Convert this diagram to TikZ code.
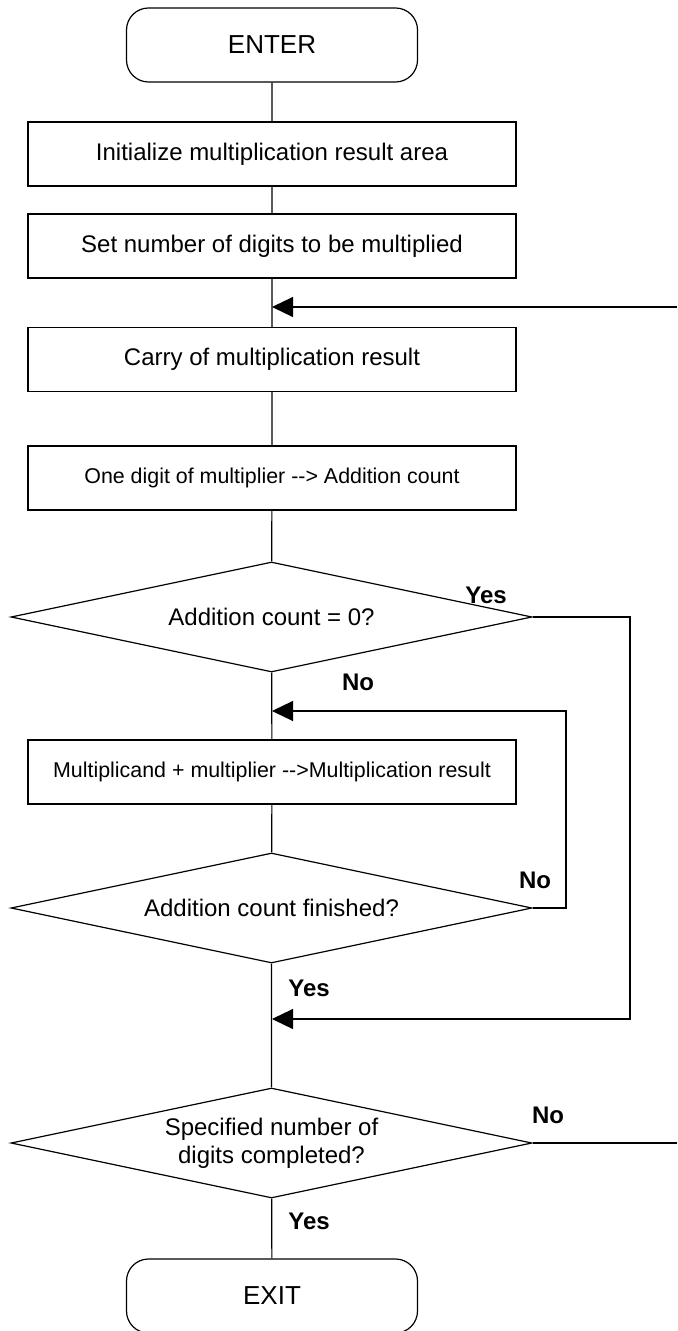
\documentclass[tikz,border=0pt]{standalone}
\usepackage{fontspec}
\setmainfont{Liberation Sans}
\usetikzlibrary{arrows.meta,positioning,shapes.geometric}

\begin{document}
\begin{tikzpicture}[
  x=0.5pt,y=-0.5pt,
  line width=0.6pt,
  term/.style={draw, rounded corners=11pt, minimum width=145.5pt, minimum height=37pt, font=\fontsize{13}{15}\selectfont},
  box/.style={draw, minimum width=244pt, minimum height=32pt, font=\fontsize{12}{14}\selectfont},
  smallbox/.style={box, font=\fontsize{10.7}{13}\selectfont},
  decide/.style={draw, diamond, shape aspect=4.7, inner sep=0pt, minimum width=260.5pt, minimum height=55pt, align=center, font=\fontsize{12}{14}\selectfont},
  lbl/.style={font=\bfseries\fontsize{12}{14}\selectfont},
  arrow/.style={-{Triangle[length=10.5pt,width=10pt]}}
]
\useasboundingbox (0,0) rectangle (677,1331);
\node[term] (enter) at (272,45) {ENTER};
\node[box] (init) at (272,154) {Initialize multiplication result area};
\node[box] (setdigits) at (272,246) {Set number of digits to be multiplied};
\node[box] (carry) at (272,359.5) {Carry of multiplication result};
\node[smallbox] (onedigit) at (272,478) {One digit of multiplier -{}-> Addition count};
\node[decide] (iszero) at (271.5,617) {Addition count = 0?};
\node[smallbox] (addmul) at (272,772) {Multiplicand + multiplier -{}->Multiplication result};
\node[decide] (addend) at (271.5,908) {Addition count finished?};
\node[decide] (digitsdone) at (271.5,1143) {Specified number of\\digits completed?};
\node[term] (exit) at (272,1296) {EXIT};
\coordinate (m1) at (272,307);
\coordinate (m2) at (272,711);
\coordinate (m3) at (272,1019);
\coordinate (offtop) at (677,307);
\coordinate (offbottom) at (677,1143);
\coordinate (nocol) at (566,711);
\coordinate (yescol) at (630,1019);
\draw (enter) -- (init) -- (setdigits) -- (carry) -- (onedigit) -- (iszero) -- (addmul) -- (addend) -- (digitsdone) -- (exit);
\draw[arrow] (offtop) -- (m1);
\draw[arrow] (addend.east) -| (nocol) -- (m2);
\draw[arrow] (iszero.east) -| (yescol) -- (m3);
\draw (digitsdone.east) -- (offbottom);
\node[lbl] (yes1) at (486,595) {Yes};
\node[lbl] (no1) at (358,682) {No};
\node[lbl] (no2) at (535,880) {No};
\node[lbl] (yes2) at (309,988) {Yes};
\node[lbl] (no3) at (548,1115) {No};
\node[lbl] (yes3) at (309,1221) {Yes};
\end{tikzpicture}
\end{document}
